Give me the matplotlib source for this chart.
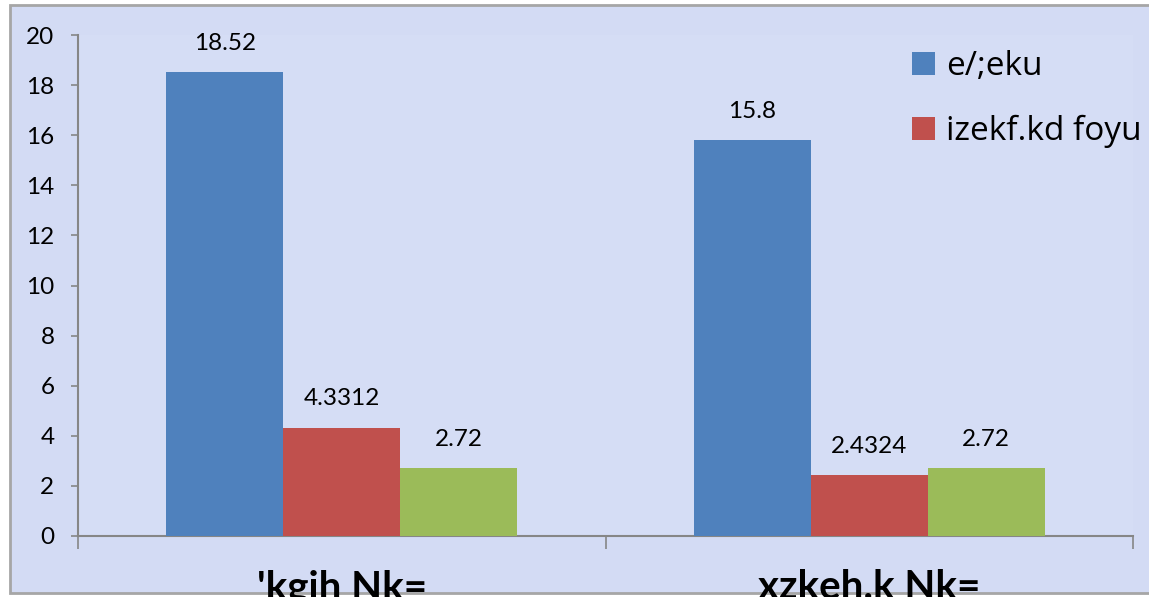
import numpy as np
import matplotlib
matplotlib.use("Agg")
import matplotlib.pyplot as plt
from matplotlib.patches import Rectangle

# data
categories = ["'kgih Nk=", "xzkeh.k Nk="]
series_names = ["e/;eku", "izekf.kd foyu", "_third"]
mean_vals = [18.52, 15.8]
sd_vals = [4.3312, 2.4324]
third_vals = [2.72, 2.72]
colors = ["#4f81bd", "#c0504d", "#9bbb59"]

plt.rcParams["font.family"] = ["Lato", "DejaVu Sans"]

fig = plt.figure(figsize=(11.49, 5.97), dpi=100)
fig.patch.set_facecolor("white")

# textured-looking background approximated with a flat lavender fill
bg = Rectangle((10 / 1149, 4 / 597), 1.2, (592 - 4) / 597, transform=fig.transFigure,
               facecolor="#d3dbf4", edgecolor="#a6a6a6", linewidth=2, zorder=-5)
fig.add_artist(bg)

ax = fig.add_axes([78 / 1149, 1 - 536 / 597, (1133 - 78) / 1149, (536 - 35) / 597])
ax.set_facecolor("#d8e0f6")
ax.patch.set_alpha(0.5)

x = np.arange(len(categories))
w = 117 / 527.5
series = [mean_vals, sd_vals, third_vals]
bars = []
for i, (vals, name, c) in enumerate(zip(series, series_names, colors)):
    b = ax.bar(x + (i - 1) * w, vals, w, color=c, label=name, zorder=3)
    bars.append(b)
    for rect, v in zip(b, vals):
        ax.annotate(f"{v:g}", (rect.get_x() + rect.get_width() / 2, rect.get_height()),
                    xytext=(0, 13), textcoords="offset points",
                    ha="center", va="bottom", fontsize=17.5, color="black")

ax.set_xlim(-0.5, 1.5)
ax.set_ylim(0, 20)
ax.set_yticks(np.arange(0, 21, 2))
ax.tick_params(axis="y", length=5, width=1.2, color="#868686", labelsize=17.5, pad=12)
ax.set_xticks(x)
ax.set_xticklabels(categories, fontsize=29, fontweight="bold")
ax.set_xticks([-0.5, 0.5, 1.5], minor=True)
ax.tick_params(axis="x", which="major", length=0, pad=24)
ax.tick_params(axis="x", which="minor", length=9, width=1.2, color="#868686")

for s in ["top", "right"]:
    ax.spines[s].set_visible(False)
for s in ["left", "bottom"]:
    ax.spines[s].set_color("#868686")
    ax.spines[s].set_linewidth(1.5)

leg = fig.legend(handles=bars[:2], labels=series_names[:2], loc="upper left",
                 bbox_to_anchor=(912 / 1149, 1 - 50 / 597), frameon=False,
                 prop={"family": ["Open Sans", "DejaVu Sans"], "size": 24},
                 handlelength=0.68, handleheight=0.68, handletextpad=0.35,
                 labelspacing=0.95, borderpad=0, borderaxespad=0)

fig.savefig("out.png", dpi=100)
